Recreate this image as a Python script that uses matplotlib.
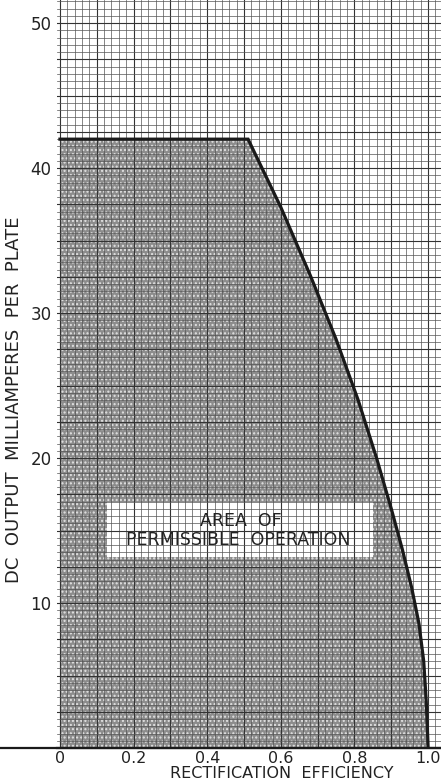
import matplotlib
matplotlib.use("Agg")
import matplotlib.pyplot as plt
from matplotlib.ticker import MultipleLocator, FuncFormatter
from matplotlib.patches import Rectangle

# ── Data: boundary of the permissible operating area ─────────────────────
efficiency = [0.0, 0.511, 0.60, 0.68, 0.75, 0.81, 0.86, 0.90,
              0.93, 0.955, 0.975, 0.988, 0.995, 1.0]
milliamps = [42.0, 42.0, 37.3, 32.6, 28.2, 24.0, 20.0, 16.5,
             13.7, 11.1, 8.6, 6.0, 3.2, 0.0]

x_ticks = [0.0, 0.2, 0.4, 0.6, 0.8, 1.0]
x_labels = ["0", "0.2", "0.4", "0.6", "0.8", "1.0"]
y_ticks = [10, 20, 30, 40, 50]

plt.rcParams.update({
    "font.family": ["DejaVu Sans"],
    "font.size": 11,
})

fig = plt.figure(figsize=(4.41, 7.82), dpi=100)
ax = fig.add_axes([57 / 441, 34 / 782, 384 / 441, 748 / 782])

ax.set_xlim(-0.008, 1.035)
ax.set_ylim(0, 51.6)

# shaded area (stippled look: gray with white dots)
ax.fill_between(efficiency, milliamps, 0, facecolor="#8c8c8c",
                edgecolor="none", zorder=1)
ax.fill_between(efficiency, milliamps, 0, facecolor="none",
                edgecolor="#e2e2e2", hatch="....", linewidth=0, zorder=1.1)

# label box: white, grid still shows through
ax.add_patch(Rectangle((0.128, 13.2), 0.722, 3.8, facecolor="white",
                       edgecolor="none", zorder=1.5))

# boundary curve
ax.plot(efficiency, milliamps, color="#1a1a1a", linewidth=2.3,
        solid_joinstyle="miter", zorder=3)

# graph-paper grid
ax.xaxis.set_major_locator(MultipleLocator(0.1))
ax.xaxis.set_minor_locator(MultipleLocator(0.02))
ax.yaxis.set_major_locator(MultipleLocator(2.5))
ax.yaxis.set_minor_locator(MultipleLocator(0.5))
ax.set_axisbelow(False)
ax.grid(which="major", color="#333333", linewidth=0.8, zorder=2.5)
ax.grid(which="minor", color="#555555", linewidth=0.5, zorder=2.5)


def fmt_x(v, pos):
    for t, lab in zip(x_ticks, x_labels):
        if abs(v - t) < 1e-6:
            return lab
    return ""


def fmt_y(v, pos):
    for t in y_ticks:
        if abs(v - t) < 1e-6:
            return f"{t}"
    return ""


ax.xaxis.set_major_formatter(FuncFormatter(fmt_x))
ax.yaxis.set_major_formatter(FuncFormatter(fmt_y))
ax.tick_params(which="both", length=0)
ax.tick_params(axis="x", pad=2, labelsize=11.5, colors="#222222")
ax.tick_params(axis="y", pad=4, labelsize=12, colors="#222222")

for side in ["top", "right", "left"]:
    ax.spines[side].set_visible(False)
ax.spines["bottom"].set_color("#1a1a1a")
ax.spines["bottom"].set_linewidth(1.6)
ax.axhline(0, xmin=-0.16, xmax=1.0, color="#1a1a1a", linewidth=1.6,
           clip_on=False, zorder=3)

ax.set_xlabel("RECTIFICATION  EFFICIENCY", fontsize=11.5, color="#222222")
ax.xaxis.label.set_va("center")
ax.xaxis.set_label_coords(0.585, -0.034)
ax.set_ylabel("DC  OUTPUT  MILLIAMPERES  PER  PLATE", fontsize=13,
              color="#222222")
ax.yaxis.set_label_coords(-0.088, 0.465)

ax.text(0.49, 15.65, "AREA  OF", ha="center", va="center", fontsize=12.5,
        color="#222222", zorder=4)
ax.text(0.485, 14.35, "PERMISSIBLE  OPERATION", ha="center", va="center",
        fontsize=12.5, color="#222222", zorder=4)

fig.savefig("out.png", dpi=100)
